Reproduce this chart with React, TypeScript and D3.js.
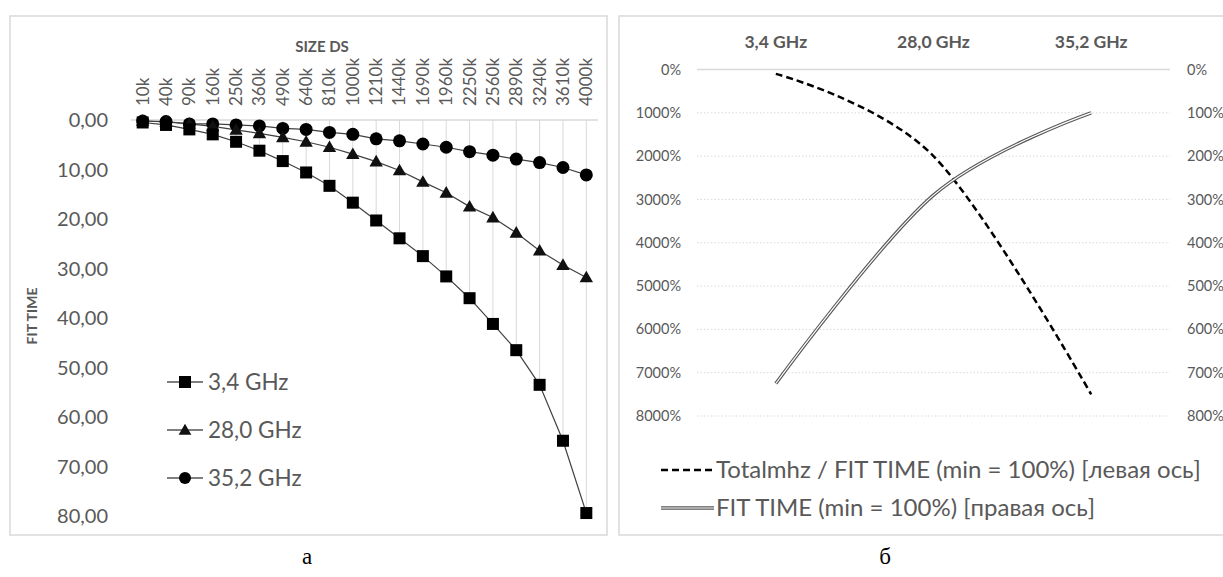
import React from 'react';
import * as d3 from 'd3';

// left chart: fit time by data set size
const sizeLabels = ['10k', '40k', '90k', '160k', '250k', '360k', '490k', '640k', '810k', '1000k',
  '1210k', '1440k', '1690k', '1960k', '2250k', '2560k', '2890k', '3240k', '3610k', '4000k'];
const fit34 = [0.5, 1.0, 1.9, 2.9, 4.4, 6.2, 8.3, 10.6, 13.3, 16.7,
  20.3, 23.9, 27.5, 31.6, 36.0, 41.2, 46.5, 53.5, 64.8, 79.4];
const fit280 = [0.2, 0.4, 0.8, 1.3, 2.0, 2.7, 3.5, 4.4, 5.5, 6.9,
  8.4, 10.2, 12.5, 14.7, 17.5, 19.7, 22.8, 26.4, 29.3, 31.8];
const fit352 = [0.2, 0.3, 0.8, 0.8, 1.0, 1.2, 1.7, 1.9, 2.5, 2.9,
  3.8, 4.2, 4.85, 5.5, 6.4, 7.1, 7.9, 8.6, 9.6, 11.1];
const fitTicks = [0, 10, 20, 30, 40, 50, 60, 70, 80];
const seriesNames = ['3,4 GHz', '28,0 GHz', '35,2 GHz'];

// right chart: relative values per frequency
const freqLabels = ['3,4 GHz', '28,0 GHz', '35,2 GHz'];
const mhzPerFit = [100, 2000, 7500];
const fitRel = [725, 290, 100];
const leftPctTicks = [0, 1000, 2000, 3000, 4000, 5000, 6000, 7000, 8000];
const rightPctTicks = [0, 100, 200, 300, 400, 500, 600, 700, 800];
const legendNames = ['Totalmhz / FIT TIME (min = 100%) [левая ось]', 'FIT TIME (min = 100%) [правая ось]'];

const FONT = "Lato, 'Open Sans', sans-serif";
const GREY = '#595959';
const GRID = '#d9d9d9';

const Marker = ({ kind, x, y }: { kind: number; x: number; y: number }) => {
  if (kind === 0) return <rect x={x - 6} y={y - 6} width={12} height={12} fill="#000" />;
  if (kind === 1) {
    const p = d3.symbol().type(d3.symbolTriangle).size(78)();
    return <path d={p || ''} transform={`translate(${x},${y + 1})`} fill="#111" />;
  }
  return <circle cx={x} cy={y} r={6.5} fill="#000" />;
};

const LeftChart = () => {
  const x = d3.scaleBand().domain(sizeLabels).range([131, 598]);
  const y = d3.scaleLinear().domain([0, 80]).range([120, 516]);
  const cx = (d: string) => (x(d) as number) + x.bandwidth() / 2;
  const series = [fit34, fit280, fit352];
  const line = d3.line<number>().x((_, i) => cx(sizeLabels[i])).y((v) => y(v));
  const fmt = (v: number) => d3.format('.2f')(v).replace('.', ',');

  return (
    <g>
      <rect x={10} y={16} width={597} height={519} fill="#fff" stroke={GRID} strokeWidth={1.5} />
      {sizeLabels.map((d, i) => (
        <line key={d} x1={cx(d)} x2={cx(d)} y1={y(0)} y2={y(Math.max(fit34[i], fit280[i], fit352[i]))}
          stroke={GRID} strokeWidth={1} />
      ))}
      <line x1={131} x2={598} y1={y(0)} y2={y(0)} stroke={GRID} strokeWidth={1.5} />
      {fitTicks.map((t) => (
        <text key={t} x={108} y={y(t)} dy="0.35em" textAnchor="end" fontSize={20} fill={GREY}>{fmt(t)}</text>
      ))}
      {sizeLabels.map((d) => (
        <text key={d} transform={`translate(${cx(d)},106) rotate(-90)`} dy="0.35em" fontSize={17} fill={GREY}>{d}</text>
      ))}
      <text x={322} y={52} textAnchor="middle" fontSize={15} fontWeight="bold" fill={GREY}>SIZE DS</text>
      <text transform="translate(37,316) rotate(-90)" textAnchor="middle" fontSize={14} fontWeight="bold" fill={GREY}>FIT TIME</text>
      {series.map((s, k) => (
        <path key={k} d={line(s) || ''} fill="none" stroke="#404040" strokeWidth={1.2} />
      ))}
      {[fit352, fit280, fit34].map((s, j) => {
        const k = 2 - j;
        return s.map((v, i) => <Marker key={`${k}-${i}`} kind={k} x={cx(sizeLabels[i])} y={y(v)} />);
      })}
      {seriesNames.map((n, k) => {
        const ly = 382 + k * 48;
        return (
          <g key={n}>
            <line x1={167} x2={203} y1={ly} y2={ly} stroke="#000" strokeWidth={1.2} />
            {k === 0 ? <rect x={179} y={ly - 6} width={12} height={12} fill="#000" /> :
              k === 1 ? <path d={d3.symbol().type(d3.symbolTriangle).size(70)() || ''} transform={`translate(185,${ly + 1})`} fill="#111" /> :
                <circle cx={185} cy={ly} r={6} fill="#000" />}
            <text x={208} y={ly} dy="0.35em" fontSize={22.5} fill={GREY}>{n}</text>
          </g>
        );
      })}
    </g>
  );
};

const RightChart = () => {
  const x = d3.scaleBand().domain(freqLabels).range([697, 1170]);
  const yL = d3.scaleLinear().domain([0, 8000]).range([69.5, 416]);
  const yR = d3.scaleLinear().domain([0, 800]).range([69.5, 416]);
  const cx = (d: string) => (x(d) as number) + x.bandwidth() / 2;
  const curve = d3.curveCardinal.tension(0);
  const dashed = d3.line<number>().x((_, i) => cx(freqLabels[i])).y((v) => yL(v)).curve(curve)(mhzPerFit) || '';
  const double = d3.line<number>().x((_, i) => cx(freqLabels[i])).y((v) => yR(v)).curve(curve)(fitRel) || '';

  return (
    <g>
      <rect x={619} y={16} width={640} height={519} fill="#fff" stroke={GRID} strokeWidth={1.5} />
      {leftPctTicks.map((t, i) => (
        <g key={t}>
          <line x1={697} x2={1170} y1={yL(t)} y2={yL(t)} stroke={GRID}
            strokeWidth={i === 0 ? 1.5 : 1} strokeDasharray={i === 0 ? undefined : '1.5,2'} />
          <text x={681} y={yL(t)} dy="0.35em" textAnchor="end" fontSize={14.5} fill={GREY}>{t}%</text>
        </g>
      ))}
      {rightPctTicks.map((t) => (
        <text key={t} x={1187} y={yR(t)} dy="0.35em" fontSize={14.5} fill={GREY}>{t}%</text>
      ))}
      {freqLabels.map((d) => (
        <text key={d} x={cx(d)} y={48} textAnchor="middle" fontSize={17.5} fontWeight="bold" fill={GREY}>{d}</text>
      ))}
      <path d={dashed} fill="none" stroke="#000" strokeWidth={2.5} strokeDasharray="7,4" />
      <path d={double} fill="none" stroke="#595959" strokeWidth={3.5} />
      <path d={double} fill="none" stroke="#fff" strokeWidth={1.2} />
      <line x1={661} x2={714} y1={470} y2={470} stroke="#000" strokeWidth={2.5} strokeDasharray="7,4" />
      <text x={716} y={470} dy="0.35em" fontSize={24} fill={GREY}>{legendNames[0]}</text>
      <line x1={661} x2={714} y1={508} y2={508} stroke="#595959" strokeWidth={3.5} />
      <line x1={661} x2={714} y1={508} y2={508} stroke="#fff" strokeWidth={1.2} />
      <text x={716} y={508} dy="0.35em" fontSize={24} fill={GREY}>{legendNames[1]}</text>
    </g>
  );
};

export default function App() {
  return (
    <svg width={1223} height={577} style={{ position: 'absolute', left: 0, top: 0, background: '#fff' }}
      fontFamily={FONT}>
      <rect width={1223} height={577} fill="#fff" />
      <LeftChart />
      <RightChart />
      <text x={307} y={564} textAnchor="middle" fontSize={23} fontFamily="'Liberation Serif', serif" fill="#000">а</text>
      <text x={885} y={564} textAnchor="middle" fontSize={23} fontFamily="'Liberation Serif', serif" fill="#000">б</text>
    </svg>
  );
}
